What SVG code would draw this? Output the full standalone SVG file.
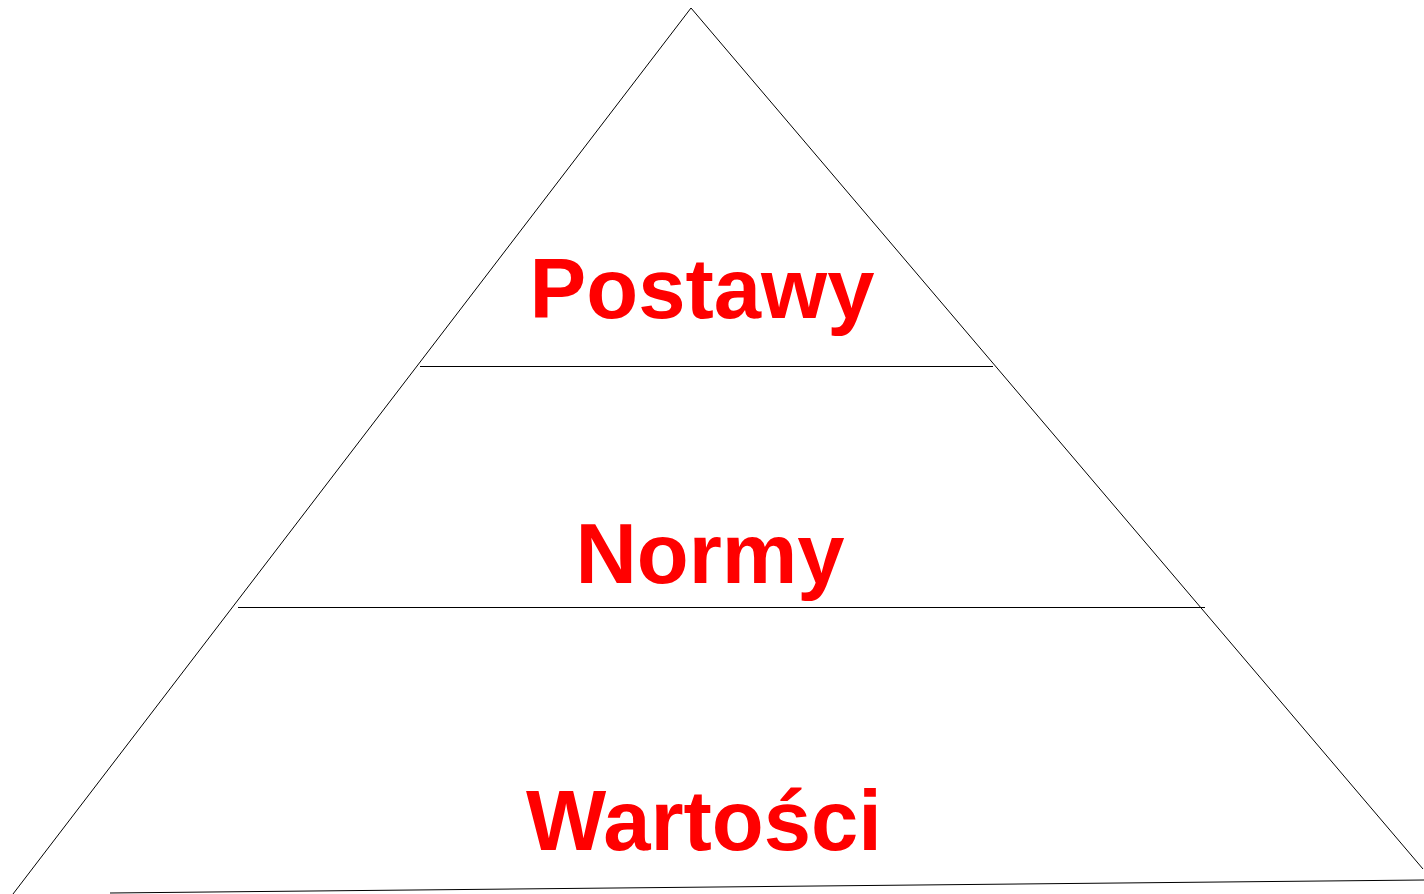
<svg xmlns="http://www.w3.org/2000/svg" width="1424" height="894" viewBox="0 0 1424 894">
<style>
.ln{stroke:#000;stroke-width:1;fill:none}
.lbl{font-family:"Liberation Sans",Arial,sans-serif;font-weight:bold;font-size:85px;fill:#ff0000;text-anchor:middle}
</style>
<rect width="1424" height="894" fill="#fff"/>
<g id="connectors">
<path class="ln" d="M691,8 L13,894"/>
<path class="ln" d="M691,8 L1423,869"/>
<path class="ln" d="M110,893 L1424,880"/>
<path class="ln" d="M420,366.5 L993,366.5"/>
<path class="ln" d="M238,607.5 L1205,607.5"/>
</g>
<g id="postawy"><text class="lbl" x="702" y="318">Postawy</text></g>
<g id="normy"><text class="lbl" x="710" y="583">Normy</text></g>
<g id="wartosci"><text class="lbl" x="704" y="850">Wartości</text></g>
</svg>
